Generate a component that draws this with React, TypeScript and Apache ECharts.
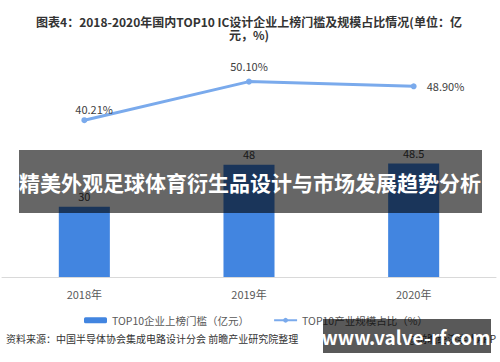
import React, { useEffect, useRef } from "react";
import * as echarts from "echarts";

const categories = ["2018年", "2019年", "2020年"];
const thresholdValues = [30, 48, 48.5];
const shareValues = [40.21, 50.1, 48.9];
const barName = "TOP10企业上榜门槛（亿元）";
const lineName = "TOP10产业规模占比（%）";
const titleLine1 = "图表4：2018-2020年国内TOP10 IC设计企业上榜门槛及规模占比情况(单位：亿";
const titleLine2 = "元，%)";
const sourceText = "资料来源：中国半导体协会集成电路设计分会 前瞻产业研究院整理";
const appText = "@前瞻经济学人APP";
const bannerText = "精美外观足球体育衍生品设计与市场发展趋势分析";
const siteText = "www.valve-rf.com";

const FONT = "'Noto Sans CJK SC', 'Noto Sans', sans-serif";

export default function App() {
  const ref = useRef<HTMLDivElement>(null);
  useEffect(() => {
    document.body.style.margin = "0";
    const chart = echarts.init(ref.current!, null, { renderer: "svg" });
    const lineLabelPos: any[] = [[-6, -14], "top", "right"];
    chart.setOption({
      animation: false,
      backgroundColor: "#ffffff",
      textStyle: { fontFamily: FONT },
      grid: { left: 2, right: 4, top: 43, bottom: 85, containLabel: false },
      legend: {
        data: [barName, lineName],
        left: 79,
        top: 310,
        itemWidth: 23,
        itemHeight: 6,
        itemGap: 24,
        textStyle: { color: "#595959", fontSize: 10.5, fontFamily: FONT },
      },
      xAxis: {
        type: "category",
        data: categories,
        axisLine: { lineStyle: { color: "#d9d9d9", width: 1 } },
        axisTick: { show: false },
        axisLabel: { color: "#595959", fontSize: 11, margin: 11, fontFamily: FONT },
      },
      yAxis: [
        { type: "value", min: 0, max: 100, show: false, splitLine: { show: false } },
        { type: "value", min: 0, max: 60, show: false, splitLine: { show: false } },
      ],
      series: [
        {
          name: barName,
          type: "bar",
          data: thresholdValues,
          barWidth: "31%",
          itemStyle: { color: "#4285e0" },
          label: {
            show: true,
            position: "top",
            distance: 5,
            color: "#404040",
            fontSize: 11,
            fontFamily: FONT,
          },
        },
        {
          name: lineName,
          type: "line",
          yAxisIndex: 1,
          data: shareValues.map((v, i) => ({
            value: v,
            label: {
              position: lineLabelPos[i],
              distance: i === 2 ? 10 : 7,
            },
          })),
          symbol: "circle",
          symbolSize: 6,
          lineStyle: { color: "#7aaaec", width: 3 },
          itemStyle: { color: "#7aaaec" },
          label: {
            show: true,
            color: "#404040",
            fontSize: 11,
            fontFamily: FONT,
            formatter: (p: any) => p.value.toFixed(2) + "%",
          },
        },
      ],
      graphic: [
        {
          type: "text",
          x: 249,
          y: 21,
          style: {
            text: titleLine1,
            fill: "#333333",
            font: `bold 12px ${FONT}`,
            align: "center",
            verticalAlign: "middle",
          },
        },
        {
          type: "text",
          x: 249,
          y: 34,
          style: {
            text: titleLine2,
            fill: "#333333",
            font: `bold 12px ${FONT}`,
            align: "center",
            verticalAlign: "middle",
          },
        },
        {
          type: "text",
          left: 6,
          top: 333,
          style: { text: sourceText, fill: "#333333", font: `10px ${FONT}` },
        },
        {
          type: "text",
          right: 4,
          top: 333,
          style: { text: appText, fill: "#333333", font: `10px ${FONT}` },
        },
        {
          type: "rect",
          z: 100,
          shape: { x: 19, y: 150, width: 463, height: 63 },
          style: { fill: "rgba(0,0,0,0.6)" },
        },
        {
          type: "text",
          z: 101,
          x: 250,
          y: 182,
          style: {
            text: bannerText,
            fill: "#ffffff",
            font: `bold 21px ${FONT}`,
            align: "center",
            verticalAlign: "middle",
          },
        },
        {
          type: "rect",
          z: 100,
          shape: { x: 323, y: 319, width: 168, height: 34 },
          style: { fill: "rgba(0,0,0,0.65)" },
        },
        {
          type: "text",
          z: 101,
          x: 406,
          y: 336,
          style: {
            text: siteText,
            fill: "#ffffff",
            font: `bold 19px ${FONT}`,
            align: "center",
            verticalAlign: "middle",
          },
        },
      ],
    });
    return () => chart.dispose();
  }, []);
  return <div ref={ref} style={{ width: 500, height: 362 }} />;
}
